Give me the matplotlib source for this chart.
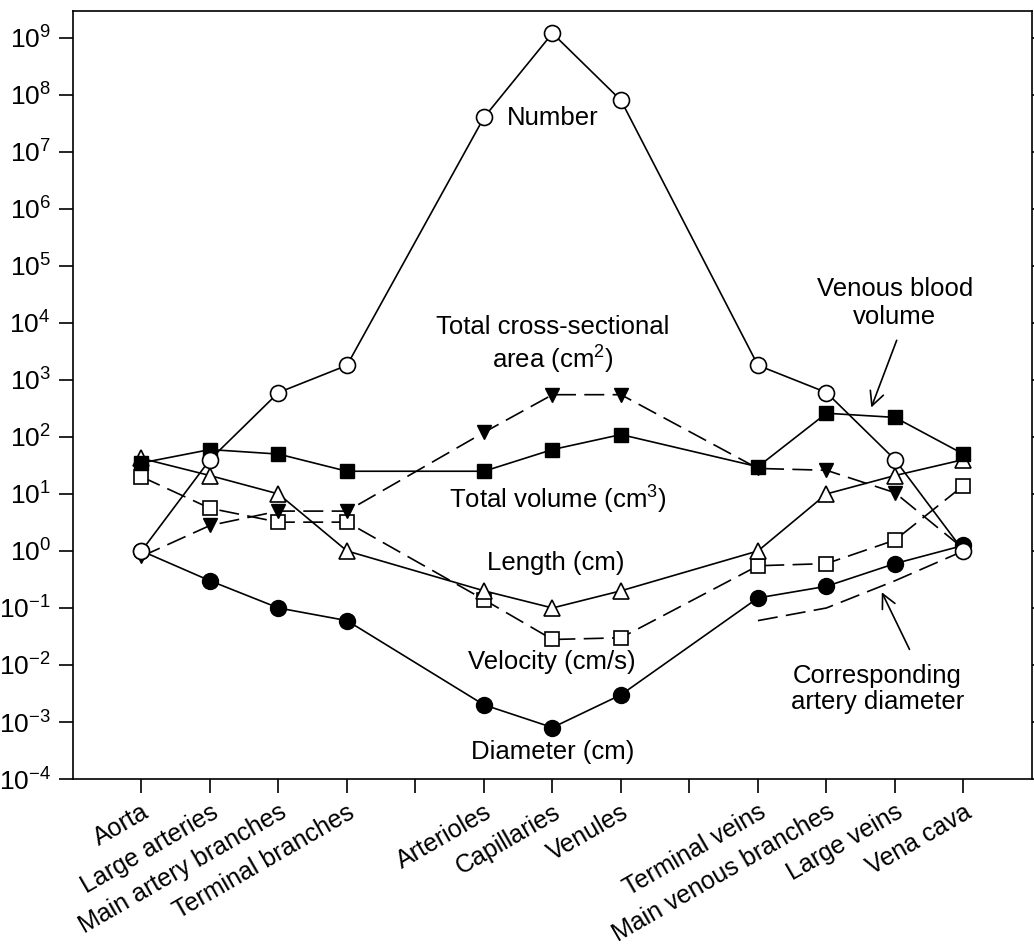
import numpy as np
import matplotlib.pyplot as plt
from matplotlib.ticker import FixedLocator, NullLocator

plt.rcParams['font.family'] = ['Liberation Sans', 'DejaVu Sans']
plt.rcParams['mathtext.fontset'] = 'custom'
plt.rcParams['mathtext.rm'] = 'Liberation Sans'
plt.rcParams['mathtext.it'] = 'Liberation Sans:italic'
plt.rcParams['mathtext.default'] = 'regular'
plt.rcParams['axes.unicode_minus'] = False

# vessel categories, empty strings are the unlabelled gap ticks
categories = ['Aorta', 'Large arteries', 'Main artery branches', 'Terminal branches', '',
              'Arterioles', 'Capillaries', 'Venules', '',
              'Terminal veins', 'Main venous branches', 'Large veins', 'Vena cava']

# values, one per labelled category
number = [1, 40, 600, 1800, 4e7, 1.2e9, 8e7, 1800, 600, 40, 1]
total_volume = [35, 60, 50, 25, 25, 60, 110, 30, 260, 220, 50]
cross_area = [0.8, 2.8, 5, 5, 120, 550, 550, 28, 26, 10.5, 1.1]
length = [42, 21, 10, 1, 0.2, 0.1, 0.2, 1, 10, 21, 40]
velocity = [20, 5.6, 3.2, 3.2, 0.14, 0.028, 0.03, 0.55, 0.6, 1.55, 14]
diameter = [1, 0.3, 0.1, 0.06, 0.002, 0.0008, 0.003, 0.15, 0.24, 0.6, 1.25]
# corresponding artery diameter plotted against the venous side
artery_diam_cats = ['Terminal veins', 'Main venous branches', 'Large veins', 'Vena cava']
artery_diam = [0.06, 0.1, 0.3, 1]

xpos = np.arange(len(categories))
pts = np.array([i for i, c in enumerate(categories) if c])
art_pts = np.array([categories.index(c) for c in artery_diam_cats])

fig = plt.figure(figsize=(10.34, 9.46), dpi=100)
ax = fig.add_axes([0.0706, 0.1765, 0.9274, 0.8119])

lw = 1.2
dash = (12, 5)
ax.plot(art_pts, artery_diam, color='black', lw=lw, dashes=dash)
ax.plot(pts, diameter, 'o-', color='black', lw=lw, ms=11.5, mfc='black', mec='black')
ax.plot(pts, velocity, 's', ls='--', dashes=dash, color='black', lw=lw, ms=10.5,
        mfc='white', mec='black', mew=1.2)
ax.plot(pts, length, '^-', color='black', lw=lw, ms=11.5, mfc='white', mec='black', mew=1.2)
ax.plot(pts, cross_area, 'v', ls='--', dashes=dash, color='black', lw=lw, ms=10.5,
        mfc='black', mec='black')
ax.plot(pts, total_volume, 's-', color='black', lw=lw, ms=10.5, mfc='black', mec='black')
ax.plot(pts, number, 'o-', color='black', lw=lw, ms=11.5, mfc='white', mec='black', mew=1.2)

ax.set_yscale('log')
ax.set_ylim(1e-4, 10 ** 9.47)
ax.set_xlim(-1, 13)

fs = 18.5
exps = np.arange(-4, 10)
ax.yaxis.set_major_locator(FixedLocator(10.0 ** exps))
ax.yaxis.set_minor_locator(NullLocator())
ax.set_yticklabels(['$10^{%d}$' % e for e in exps], fontsize=19)

ax.set_xticks(xpos)
ax.set_xticklabels(categories, rotation=30, ha='right', rotation_mode='anchor', fontsize=18)

ax.tick_params(axis='both', direction='out', length=10, width=1.2, pad=6)
ax.tick_params(axis='x', pad=5)
ax.tick_params(axis='y', right=True)
for s in ax.spines.values():
    s.set_linewidth(1.2)

ax.text(6.0, 10 ** 7.6, 'Number', ha='center', va='center', fontsize=fs)
ax.text(6.0, 10 ** 3.6, 'Total cross-sectional\narea (cm$^2$)', ha='center', va='center',
        fontsize=fs, linespacing=1.2)
ax.text(6.07, 10 ** 0.9, 'Total volume (cm$^3$)', ha='center', va='center', fontsize=fs)
ax.text(6.05, 10 ** -0.21, 'Length (cm)', ha='center', va='center', fontsize=fs)
ax.text(5.99, 10 ** -1.95, 'Velocity (cm/s)', ha='center', va='center', fontsize=fs)
ax.text(6.0, 10 ** -3.53, 'Diameter (cm)', ha='center', va='center', fontsize=fs)

ax.text(11.0, 10 ** 4.35, 'Venous blood\nvolume', ha='center', va='center', fontsize=fs,
        linespacing=1.2)
ax.annotate('', xy=(10.64, 10 ** 2.47), xytext=(11.04, 10 ** 3.74),
            arrowprops=dict(arrowstyle='->', color='black', lw=1.2, mutation_scale=25))

ax.text(10.74, 10 ** -2.42, 'Corresponding\nartery diameter', ha='center', va='center',
        fontsize=fs, linespacing=1.15)
ax.annotate('', xy=(10.79, 10 ** -0.68), xytext=(11.23, 10 ** -1.77),
            arrowprops=dict(arrowstyle='->', color='black', lw=1.2, mutation_scale=25))

fig.savefig('out.png', dpi=100)
